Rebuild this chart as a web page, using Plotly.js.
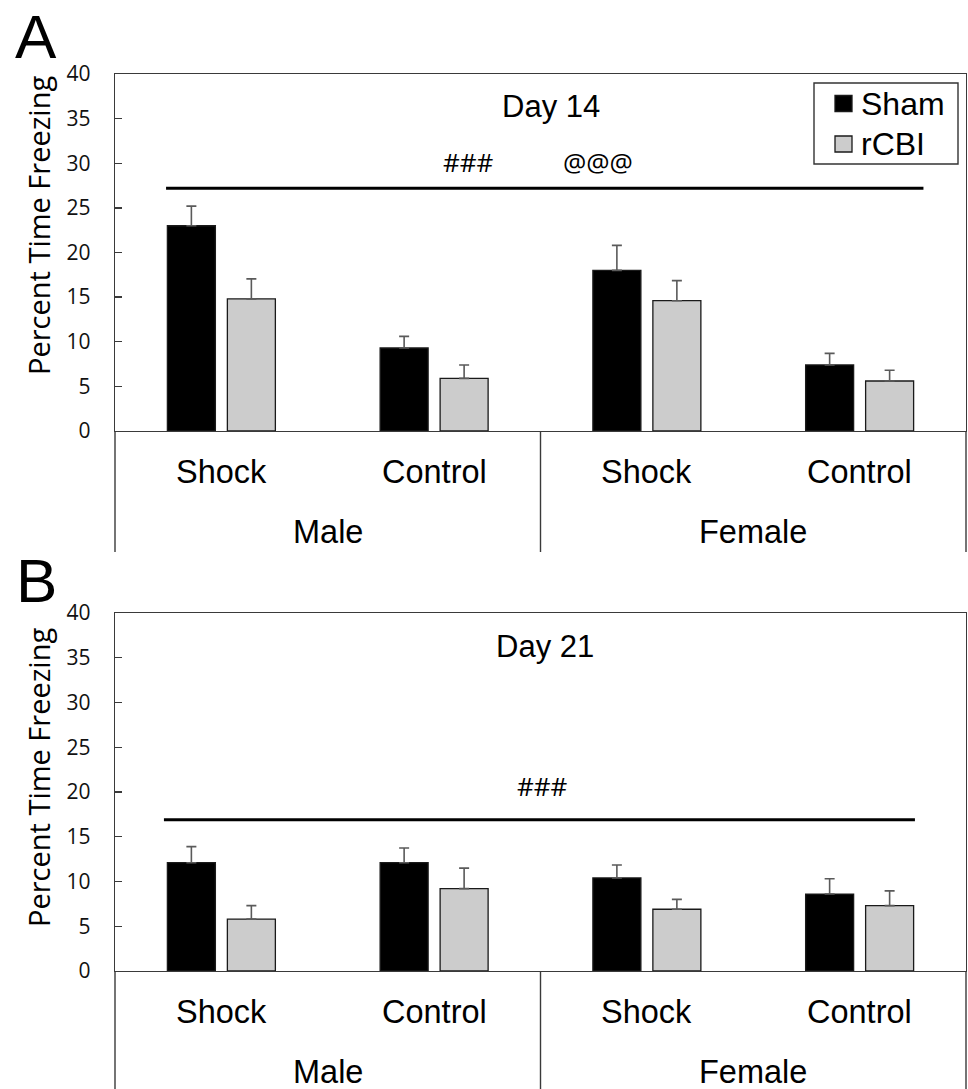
<!DOCTYPE html>
<html>
<head>
<meta charset="utf-8">
<script src="https://cdn.plot.ly/plotly-3.0.1.min.js"></script>
<style>html,body{margin:0;padding:0;background:#fff;}#chart{width:968px;height:1089px;}</style>
</head>
<body>
<div id="chart"></div>
<script>
// ---- data ----
const categories = ['Shock', 'Control', 'Shock', 'Control'];
const sexes = ['Male', 'Female'];
const groups = ['Sham', 'rCBI'];
const panelTitles = ['Day 14', 'Day 21'];
const panelLetters = ['A', 'B'];
const yTitle = 'Percent Time Freezing';

const day14Sham = [23.0, 9.3, 18.0, 7.4];
const day14ShamErr = [2.2, 1.3, 2.8, 1.3];
const day14Rcbi = [14.8, 5.9, 14.6, 5.6];
const day14RcbiErr = [2.25, 1.5, 2.25, 1.2];

const day21Sham = [12.1, 12.1, 10.4, 8.6];
const day21ShamErr = [1.8, 1.65, 1.45, 1.7];
const day21Rcbi = [5.8, 9.2, 6.9, 7.3];
const day21RcbiErr = [1.5, 2.3, 1.1, 1.65];

const yTickVals = [0, 5, 10, 15, 20, 25, 30, 35, 40];

// significance bars: [x start, x end] in category units, level in %
const sigLineA = [-0.26, 3.30];
const sigLevelA = 27.2;
const sigTextA = ['###', '@@@'];
const sigTextAX = [1.16, 1.77];
const sigTextAY = 30.1;

const sigLineB = [-0.27, 3.26];
const sigLevelB = 16.9;
const sigTextB = ['###'];
const sigTextBX = [1.51];
const sigTextBY = 20.7;

// ---- layout helpers ----
const W = 968, H = 1089, L = 115, R = 2;
const PW = W - L - R;
const px = x => (x - L) / PW;
const py = y => 1 - y / H;

const xs = categories.map((_, i) => i);
const shamColor = '#000000', rcbiColor = '#cccccc';
const edge = '#1a1a1a', axisCol = '#3a3a3a';
const fillColors = [shamColor, rcbiColor];
const errStyle = arr => ({type: 'data', symmetric: false, array: arr, arrayminus: arr.map(() => 0),
  color: '#5a5a5a', thickness: 1.6, width: 5});

const traces = [
  {type: 'bar', name: groups[0], x: xs, y: day14Sham, xaxis: 'x', yaxis: 'y',
   marker: {color: shamColor, line: {color: edge, width: 1.3}}, error_y: errStyle(day14ShamErr)},
  {type: 'bar', name: groups[1], x: xs, y: day14Rcbi, xaxis: 'x', yaxis: 'y',
   marker: {color: rcbiColor, line: {color: edge, width: 1.3}}, error_y: errStyle(day14RcbiErr)},
  {type: 'bar', name: groups[0], x: xs, y: day21Sham, xaxis: 'x2', yaxis: 'y2',
   marker: {color: shamColor, line: {color: edge, width: 1.3}}, error_y: errStyle(day21ShamErr)},
  {type: 'bar', name: groups[1], x: xs, y: day21Rcbi, xaxis: 'x2', yaxis: 'y2',
   marker: {color: rcbiColor, line: {color: edge, width: 1.3}}, error_y: errStyle(day21RcbiErr)},
  {type: 'scatter', mode: 'lines', x: sigLineA, y: [sigLevelA, sigLevelA], xaxis: 'x', yaxis: 'y',
   line: {color: '#000', width: 3.2}, hoverinfo: 'skip'},
  {type: 'scatter', mode: 'lines', x: sigLineB, y: [sigLevelB, sigLevelB], xaxis: 'x2', yaxis: 'y2',
   line: {color: '#000', width: 3.2}, hoverinfo: 'skip'}
];

const xAxisBase = {range: [-0.5, 3.5], showticklabels: false, ticks: '', showgrid: false, zeroline: false,
  showline: true, mirror: true, linecolor: axisCol, linewidth: 1.4, fixedrange: true};
const yAxisBase = {range: [0, 40], tickvals: yTickVals, ticks: 'inside', ticklen: 7, tickcolor: axisCol,
  tickwidth: 1.3, showgrid: false, zeroline: false, showline: true, mirror: true, linecolor: axisCol,
  linewidth: 1.4, tickfont: {family: 'Open Sans, sans-serif', size: 21, color: '#111'},
  ticklabelstandoff: 19, fixedrange: true};

const panels = [
  {top: 74, zero: 431, bottom: 552, xref: 'x', yref: 'y', titleY: 106, letterTop: 0, yTitleY: 226,
   sig: sigTextA, sigX: sigTextAX, sigY: sigTextAY, titleX: 551},
  {top: 613, zero: 971, bottom: 1089, xref: 'x2', yref: 'y2', titleY: 646, letterTop: 544, yTitleY: 778,
   sig: sigTextB, sigX: sigTextBX, sigY: sigTextBY, titleX: 545}
];

const annotations = [];
const shapes = [];
const catFont = {family: 'Liberation Sans, Arial, sans-serif', size: 32.5, color: '#000'};

panels.forEach((p, k) => {
  annotations.push({xref: 'paper', yref: 'paper', x: px(p.titleX), y: py(p.titleY), text: panelTitles[k],
    showarrow: false, xanchor: 'center', yanchor: 'middle',
    font: {family: 'Liberation Sans, Arial, sans-serif', size: 31, color: '#000'}});
  annotations.push({xref: 'paper', yref: 'paper', x: px(36), y: py(p.letterTop), text: panelLetters[k],
    showarrow: false, xanchor: 'center', yanchor: 'top',
    font: {family: 'Liberation Sans, Arial, sans-serif', size: 62, color: '#000'}});
  annotations.push({xref: 'paper', yref: 'paper', x: px(38), y: py(p.yTitleY), text: yTitle, textangle: -90,
    showarrow: false, xanchor: 'center', yanchor: 'middle',
    font: {family: 'Open Sans, sans-serif', size: 29, color: '#000'}});
  p.sig.forEach((s, j) => annotations.push({xref: p.xref, yref: p.yref, x: p.sigX[j], y: p.sigY, text: s,
    showarrow: false, xanchor: 'center', yanchor: 'middle',
    font: {family: 'Open Sans, sans-serif', size: 26, color: '#000'}}));
  categories.forEach((c, i) => annotations.push({xref: p.xref, yref: 'paper', x: xs[i], y: py(p.zero + 41),
    text: c, showarrow: false, xanchor: 'center', yanchor: 'middle', font: catFont}));
  sexes.forEach((s, j) => annotations.push({xref: p.xref, yref: 'paper', x: 0.5 + 2 * j, y: py(p.zero + 101),
    text: s, showarrow: false, xanchor: 'center', yanchor: 'middle', font: catFont}));
  [0, 0.5, 1].forEach(fx => shapes.push({type: 'line', xref: 'paper', yref: 'paper',
    x0: fx, x1: fx, y0: py(p.zero), y1: py(p.bottom), line: {color: axisCol, width: 1.4}}));
});

// legend (drawn as a boxed key, Excel style)
shapes.push({type: 'rect', xref: 'paper', yref: 'paper', x0: px(814), x1: px(958), y0: py(164), y1: py(83),
  line: {color: '#333', width: 1.4}, fillcolor: '#fff'});
const legendRowY = [103.5, 144];
groups.forEach((g, i) => {
  shapes.push({type: 'rect', xref: 'paper', yref: 'paper', x0: px(835), x1: px(852),
    y0: py(legendRowY[i] + 8), y1: py(legendRowY[i] - 8), fillcolor: fillColors[i],
    line: {color: edge, width: 1.3}});
  annotations.push({xref: 'paper', yref: 'paper', x: px(859), y: py(legendRowY[i]), text: g,
    showarrow: false, xanchor: 'left', yanchor: 'middle',
    font: {family: 'Liberation Sans, Arial, sans-serif', size: 32, color: '#000'}});
});

const layout = {
  width: W, height: H,
  margin: {l: L, r: R, t: 0, b: 0, pad: 0},
  paper_bgcolor: '#fff', plot_bgcolor: '#fff',
  barmode: 'group', bargap: 0.436, bargroupgap: 0.2,
  xaxis: Object.assign({}, xAxisBase, {domain: [0, 1], anchor: 'y'}),
  yaxis: Object.assign({}, yAxisBase, {domain: [py(431), py(74)], anchor: 'x'}),
  xaxis2: Object.assign({}, xAxisBase, {domain: [0, 1], anchor: 'y2'}),
  yaxis2: Object.assign({}, yAxisBase, {domain: [py(971), py(613)], anchor: 'x2'}),
  showlegend: false,
  annotations: annotations,
  shapes: shapes,
  hovermode: false
};

Plotly.newPlot('chart', traces, layout, {staticPlot: true, displayModeBar: false});
</script>
</body>
</html>
